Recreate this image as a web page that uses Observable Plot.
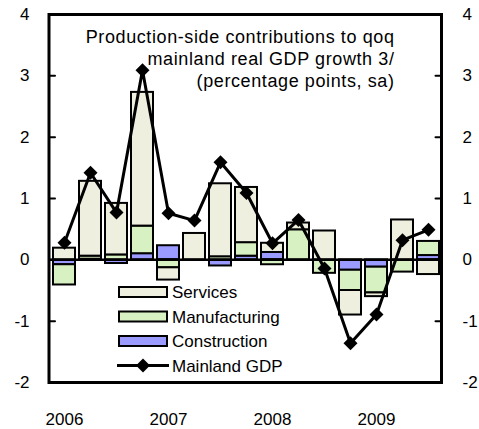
<!DOCTYPE html>
<html><head><meta charset="utf-8">
<script src="https://cdn.jsdelivr.net/npm/d3@7"></script>
<script src="https://cdn.jsdelivr.net/npm/@observablehq/plot@0.6"></script>
<style>
body{margin:0;background:#fff;}
#chart{position:relative;width:479px;height:429px;font-family:"Liberation Sans",Arial,sans-serif;}
#legend{position:absolute;left:0;top:0;pointer-events:none;}
</style></head><body><div id="chart"></div>
<script>
const quarters = ["2006Q1","2006Q2","2006Q3","2006Q4","2007Q1","2007Q2","2007Q3","2007Q4","2008Q1","2008Q2","2008Q3","2008Q4","2009Q1","2009Q2","2009Q3"];
const yearLabels = ["2006","2007","2008","2009"];
const services      = [0.19, 1.22, 0.84, 2.18, -0.20, 0.43, 1.19, 0.90, 0.15, 0.11, 0.47, -0.40, -0.06, 0.65, -0.24];
const manufacturing = [-0.33, 0.05, 0.08, 0.45, -0.13, 0.00, 0.05, 0.22, -0.08, 0.49, -0.22, -0.33, -0.42, -0.20, 0.23];
const construction  = [-0.08, 0.01, -0.06, 0.10, 0.23, 0.00, -0.10, 0.06, 0.12, 0.00, 0.00, -0.17, -0.12, 0.00, 0.07];
const mainlandGDP   = [0.28, 1.42, 0.77, 3.09, 0.76, 0.64, 1.59, 1.09, 0.27, 0.65, -0.14, -1.36, -0.89, 0.32, 0.49];
const yTicks = [-2, -1, 0, 1, 2, 3, 4];
const titleText = "Production-side contributions to qoq\nmainland real GDP growth 3/\n(percentage points, sa)";

const seriesNames = ["Construction", "Manufacturing", "Services"];
const seriesValues = [construction, manufacturing, services];
const colors = {Services: "#efefdf", Manufacturing: "#d8f1c2", Construction: "#9a9aff"};

const rows = [];
seriesNames.forEach((s, k) => quarters.forEach((q, i) => {
  if (seriesValues[k][i] !== 0) rows.push({quarter: q, series: s, value: seriesValues[k][i]});
}));
const gdpRows = quarters.map((q, i) => ({quarter: q, value: mainlandGDP[i]}));
const yearTicks = quarters.filter(q => q.endsWith("Q1"));
const yearOf = Object.fromEntries(yearTicks.map((q, i) => [q, yearLabels[i]]));

const tickShape = {draw(context, l) { context.moveTo(0, 0); context.lineTo(0, -l); }};
const FONT = 17;

const plot = Plot.plot({
  width: 479, height: 429,
  marginLeft: 48.5, marginRight: 38, marginTop: 14, marginBottom: 47,
  style: {fontFamily: '"Liberation Sans", Arial, sans-serif', fontSize: FONT + "px", background: "white", color: "black"},
  x: {type: "band", domain: quarters, range: [48.5, 443], paddingInner: 0.14, paddingOuter: 0.125, axis: null, label: null},
  y: {domain: [-2, 4], axis: null, label: null},
  marks: [
    Plot.barY(rows, {x: "quarter", y: "value", fill: d => colors[d.series], stroke: "black", strokeWidth: 2}),
    Plot.ruleY([0], {stroke: "black", strokeWidth: 2.5}),
    Plot.line(gdpRows, {x: "quarter", y: "value", stroke: "black", strokeWidth: 3}),
    Plot.dot(gdpRows, {x: "quarter", y: "value", symbol: "diamond2", r: 6.3, fill: "black", stroke: "none"}),
    Plot.vector(yTicks, {y: d => d, frameAnchor: "left", anchor: "start", rotate: 90, length: 6, shape: tickShape, stroke: "black", strokeWidth: 2}),
    Plot.vector(yTicks, {y: d => d, frameAnchor: "right", anchor: "start", rotate: -90, length: 6, shape: tickShape, stroke: "black", strokeWidth: 2}),
    Plot.axisY({anchor: "left", ticks: yTicks, tickSize: 0, tickPadding: 19.5, fontSize: FONT, label: null, tickFormat: d => String(d)}),
    Plot.axisY({anchor: "right", ticks: yTicks, tickSize: 0, tickPadding: 21, fontSize: FONT, label: null, textAnchor: "start", tickFormat: d => String(d)}),
    Plot.axisX({ticks: yearTicks, tickSize: 0, tickPadding: 30, fontSize: FONT, label: null, tickFormat: q => yearOf[q]}),
    Plot.frame({stroke: "black", strokeWidth: 3}),
    Plot.text([titleText], {frameAnchor: "top-right", dx: -47, dy: 13, textAnchor: "end", lineAnchor: "top", lineHeight: 1.22, fontSize: 18, fill: "black", style: {letterSpacing: "0.6px"}})
  ]
});
const chart = document.getElementById("chart");
chart.appendChild(plot);
d3.select(plot).selectAll("text").filter(function() { return this.textContent.startsWith("Production") || this.parentNode.textContent.startsWith("Production"); }).attr("letter-spacing", "0.6px");

// legend overlay
const legendItems = [
  {name: "Services", type: "rect", fill: colors.Services},
  {name: "Manufacturing", type: "rect", fill: colors.Manufacturing},
  {name: "Construction", type: "rect", fill: colors.Construction},
  {name: "Mainland GDP", type: "line"}
];
const lg = d3.select(chart).append("svg").attr("id", "legend").attr("width", 479).attr("height", 429);
legendItems.forEach((it, i) => {
  const cy = 292 + i * 24.5;
  const g = lg.append("g").attr("transform", `translate(0,${cy})`);
  if (it.type === "rect") {
    g.append("rect").attr("x", 119).attr("y", -5).attr("width", 48).attr("height", 10)
      .attr("fill", it.fill).attr("stroke", "black").attr("stroke-width", 2);
  } else {
    g.append("line").attr("x1", 117).attr("x2", 169).attr("stroke", "black").attr("stroke-width", 3);
    g.append("path").attr("d", d3.symbol(d3.symbolDiamond2, Math.PI * 6.3 * 6.3)()).attr("transform", "translate(143,0)").attr("fill", "black");
  }
  g.append("text").attr("x", 172).attr("dy", "0.36em").attr("font-size", FONT).attr("font-family", '"Liberation Sans", Arial, sans-serif').text(it.name);
});
</script></body></html>
